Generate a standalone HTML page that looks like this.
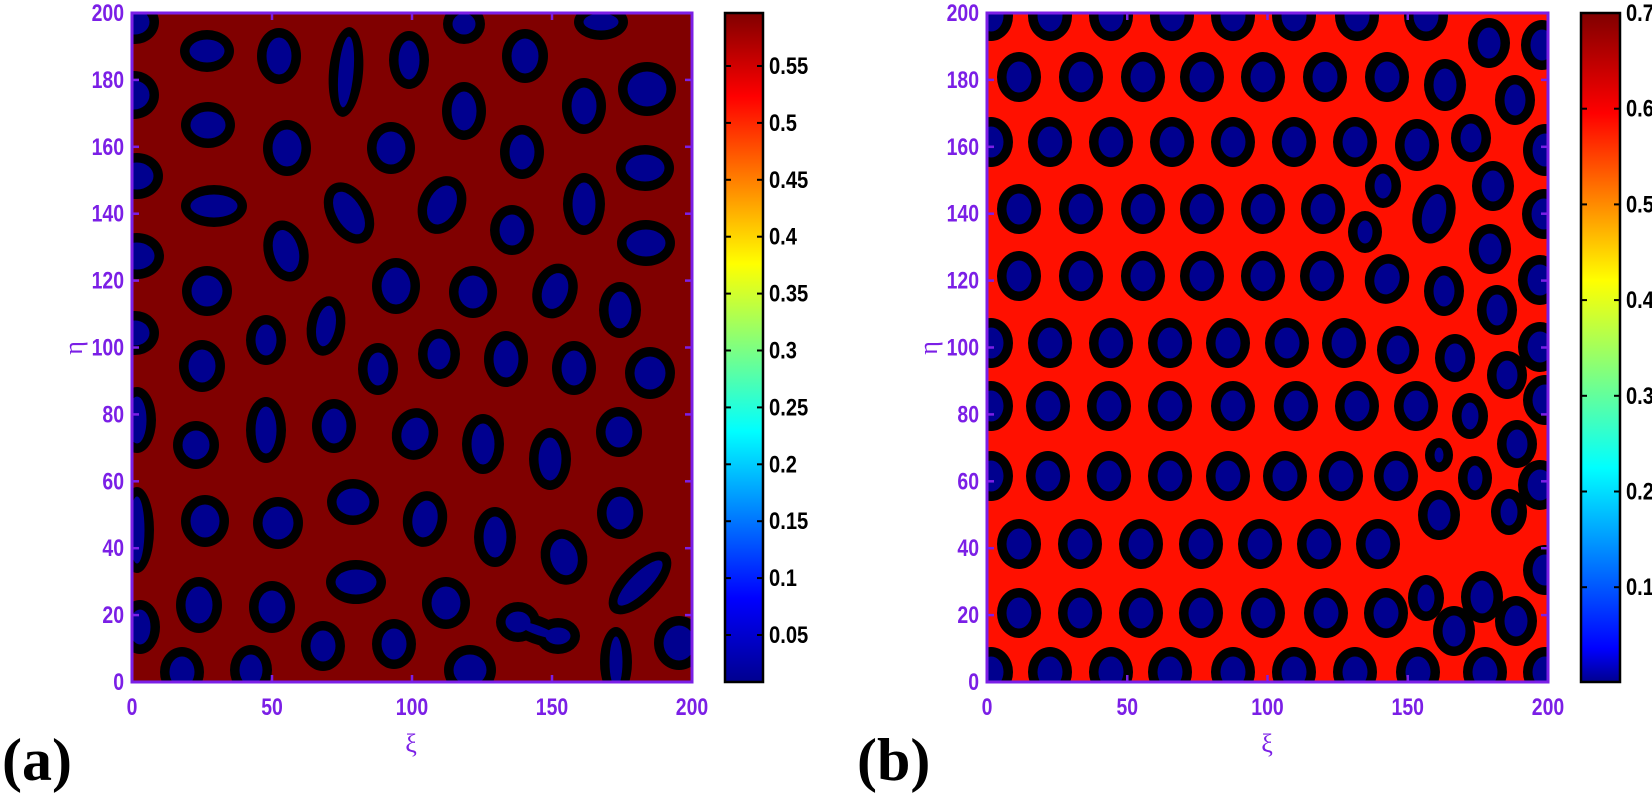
<!DOCTYPE html>
<html><head><meta charset="utf-8"><style>
html,body{margin:0;padding:0;background:#fff;}
svg{display:block;}
.tl{font-family:"Liberation Sans",sans-serif;font-weight:bold;font-size:24px;fill:#7b1fe6;}
.cl{font-family:"Liberation Sans",sans-serif;font-weight:bold;font-size:24px;fill:#000;}
.ax{font-family:"Liberation Serif",serif;font-size:26px;fill:#7b1fe6;}
.pl{font-family:"Liberation Serif",serif;font-weight:bold;font-size:60px;fill:#000;}
</style></head><body>
<svg id="s" width="1652" height="795" viewBox="0 0 1652 795" xmlns="http://www.w3.org/2000/svg">
<defs>
<clipPath id="ca"><rect x="132" y="13" width="560" height="669"/></clipPath>
<clipPath id="cb"><rect x="987" y="13" width="561" height="669"/></clipPath>
<linearGradient id="jet" x1="0" y1="1" x2="0" y2="0">
<stop offset="0" stop-color="#00008f"/><stop offset="0.125" stop-color="#0000ff"/>
<stop offset="0.375" stop-color="#00ffff"/><stop offset="0.625" stop-color="#ffff00"/>
<stop offset="0.875" stop-color="#ff0000"/><stop offset="1" stop-color="#800000"/>
</linearGradient>
<linearGradient id="jetb" x1="0" y1="1" x2="0" y2="0">
<stop offset="0" stop-color="#00008f"/><stop offset="0.05" stop-color="#0000ff"/>
<stop offset="0.32" stop-color="#00ffff"/><stop offset="0.6" stop-color="#ffff00"/>
<stop offset="0.85" stop-color="#ff0000"/><stop offset="1" stop-color="#800000"/>
</linearGradient>
</defs>
<rect x="132" y="13" width="560" height="669" fill="#800000"/>
<g id="ga" clip-path="url(#ca)"></g>
<rect x="987" y="13" width="561" height="669" fill="#ff1000"/>
<g id="gb" clip-path="url(#cb)"></g>
<g id="axes"></g>
<rect x="725" y="13" width="38" height="669" fill="url(#jet)" stroke="#000" stroke-width="2.5"/>
<rect x="1581" y="13" width="39" height="669" fill="url(#jetb)" stroke="#000" stroke-width="2.5"/>
<text class="ax" x="0" y="0" text-anchor="middle" transform="translate(82,348) rotate(-90)">η</text>
<text class="ax" x="0" y="0" text-anchor="middle" transform="translate(937,348) rotate(-90)">η</text>
<text class="ax" x="411" y="752" text-anchor="middle">ξ</text>
<text class="ax" x="1267" y="752" text-anchor="middle">ξ</text>
<text class="pl" x="2" y="780">(a)</text>
<text class="pl" x="857" y="780">(b)</text>
</svg>
<script>
var NS="http://www.w3.org/2000/svg";
function el(p,t,a,txt){var e=document.createElementNS(NS,t);for(var k in a)e.setAttribute(k,a[k]);if(txt!==undefined)e.textContent=txt;p.appendChild(e);return e;}
function draw(g,list){
  list.forEach(function(b){var r=b[4]||0;el(g,"ellipse",{cx:b[0],cy:b[1],rx:b[2],ry:b[3],fill:"#000",transform:"rotate("+r+" "+b[0]+" "+b[1]+")"});});
  list.forEach(function(b){var r=b[4]||0;el(g,"ellipse",{cx:b[0],cy:b[1],rx:Math.max(2,b[2]-9.5),ry:Math.max(2,b[3]-9.5),fill:"#00008f",transform:"rotate("+r+" "+b[0]+" "+b[1]+")"});});
}
var A=[[135,22,24,22],[207,51,27,21],[279,56,22,28],[346,72,17,45,5],[409,60,20,29],[464,24,21,20],[525,56,23,27],[601,22,27,18],
[134,95,25,24],[208,125,27,23],[464,111,22,29],[584,106,22,28],[647,89,29,27],
[287,148,24,28],[391,148,24,26],[522,152,22,27],[137,176,26,23],[645,168,29,23],
[214,206,33,21],[349,213,22,33,-30],[442,205,23,30,25],[584,204,21,31],[512,230,22,25],
[137,256,27,23],[646,243,29,23],[286,251,22,31,-15],[207,291,25,25],[396,286,24,28],[473,292,24,26],[555,291,22,28,20],[620,310,21,28],
[266,340,20,25],[326,326,19,30,10],[439,354,21,25],[135,333,24,22],
[202,366,23,26],[378,369,20,26],[506,359,22,28],[574,368,22,27],[650,373,25,26],
[137,420,19,33],[196,445,23,24],[266,430,20,33],[334,426,22,27],[415,434,23,26,15],[483,444,21,30],[550,459,21,31],[619,432,23,25],
[137,530,17,43],[205,521,24,26],[278,523,25,26],[353,502,26,23],[425,519,22,28,10],[495,537,21,30],[564,557,23,28,-15],[620,513,23,26],
[199,605,23,28],[272,607,23,26],[356,582,30,22],[446,603,24,26],[640,583,40,19,-45],
[140,627,20,27],[182,672,22,25],[251,670,21,25],[323,646,22,25],[394,644,22,25],[470,670,26,25],[616,662,16,35],[679,643,25,27],
[518,622,22,20],[558,636,22,18],[537,630,30,14,20]];
draw(document.getElementById("ga"),A);
var B=[];
function row(y,xs){xs.forEach(function(x){B.push([x,y,22,25]);});}
row(16,[991,1050,1111,1172,1233,1294,1357,1426]);B.push([1489,43,21,25],[1542,45,21,25]);
row(77,[1019,1081,1143,1202,1263,1325,1387]);B.push([1445,85,21,26],[1515,100,20,25]);
row(142,[991,1050,1111,1172,1233,1294,1355]);B.push([1417,145,22,26],[1471,138,20,24],[1545,150,22,26]);
row(209,[1019,1081,1143,1202,1263,1323]);B.push([1383,186,18,22],[1434,214,21,30,15],[1493,186,21,25],[1365,232,17,21],[1490,249,21,25],[1544,214,22,25]);
row(276,[1019,1081,1143,1202,1263,1322]);B.push([1387,279,22,25,15],[1444,291,20,25],[1497,310,20,25],[1540,280,22,25]);
row(343,[991,1050,1111,1170,1228,1287,1344]);B.push([1398,350,21,24],[1455,358,20,24],[1507,375,20,24],[1540,347,22,25]);
row(406,[991,1048,1109,1170,1233,1296,1357,1416]);B.push([1470,416,18,23],[1517,444,20,24],[1545,400,22,25]);
row(476,[991,1048,1109,1170,1228,1285,1341,1396]);B.push([1439,455,14,17],[1475,478,17,22],[1540,485,22,25]);
row(544,[1019,1080,1141,1201,1260,1319,1378]);B.push([1439,515,21,25],[1509,512,18,23],[1482,597,21,26],[1426,598,18,23],[1545,570,22,25]);
row(613,[1019,1080,1141,1201,1263,1326,1386]);B.push([1454,631,21,25],[1516,621,21,25]);
row(672,[991,1050,1111,1170,1233,1294,1355,1418,1485,1545]);
draw(document.getElementById("gb"),B);
var ax=document.getElementById("axes");
var P="#7b1fe6";
function tw(s){var w=0;for(var i=0;i<s.length;i++)w+=(s[i]=="."?5:10.8);return w;}
function frame(x0,y0,w,h){
  el(ax,"rect",{x:x0,y:y0,width:w,height:h,fill:"none",stroke:P,"stroke-width":3});
  for(var i=0;i<=4;i++){var x=x0+w*i/4;var t=String(i*50);
    el(ax,"line",{x1:x,y1:y0+h,x2:x,y2:y0+h-7,stroke:P,"stroke-width":2.5});
    el(ax,"line",{x1:x,y1:y0,x2:x,y2:y0+7,stroke:P,"stroke-width":2.5});
    el(ax,"text",{"class":"tl",x:x-tw(t)/2,y:y0+h+33,textLength:tw(t),lengthAdjust:"spacingAndGlyphs"},t);}
  for(var j=0;j<=10;j++){var y=y0+h-h*j/10;var t=String(j*20);
    el(ax,"line",{x1:x0,y1:y,x2:x0+7,y2:y,stroke:P,"stroke-width":2.5});
    el(ax,"line",{x1:x0+w,y1:y,x2:x0+w-7,y2:y,stroke:P,"stroke-width":2.5});
    el(ax,"text",{"class":"tl",x:x0-8-tw(t),y:y+8,textLength:tw(t),lengthAdjust:"spacingAndGlyphs"},t);}
}
frame(132,13,560,669);frame(987,13,561,669);
var s=document.getElementById("s");
for(var k=1;k<=11;k++){var v=k*0.05;var y=66+(0.55-v)*1138;var t=(Math.round(v*100)/100).toString();
  el(s,"line",{x1:725,y1:y,x2:731,y2:y,stroke:"#000","stroke-width":2});
  el(s,"line",{x1:763,y1:y,x2:757,y2:y,stroke:"#000","stroke-width":2});
  el(s,"text",{"class":"cl",x:769,y:y+8,textLength:tw(t)*1.05,lengthAdjust:"spacingAndGlyphs"},t);}
for(var k=1;k<=7;k++){var v=k*0.1;var y=13+(0.7-v)*957;var t=(Math.round(v*10)/10).toString();
  el(s,"line",{x1:1581,y1:y,x2:1587,y2:y,stroke:"#000","stroke-width":2});
  el(s,"line",{x1:1620,y1:y,x2:1614,y2:y,stroke:"#000","stroke-width":2});
  el(s,"text",{"class":"cl",x:1626,y:y+8,textLength:tw(t)*1.05,lengthAdjust:"spacingAndGlyphs"},t);}
</script>
</body></html>
